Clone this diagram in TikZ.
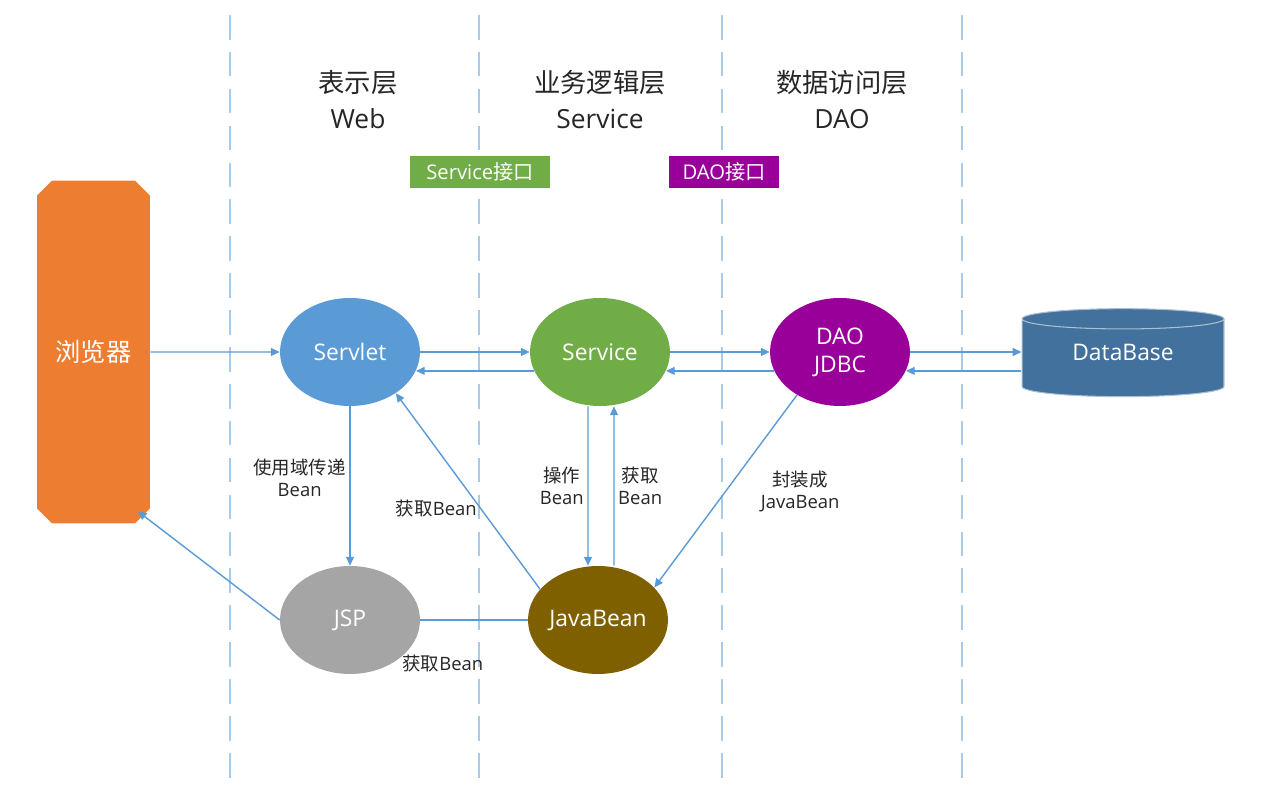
\documentclass[tikz,border=0pt]{standalone}
\usepackage{fontspec}
\setmainfont{Open Sans}
\newfontfamily\cjk{Noto Sans CJK SC}
\usetikzlibrary{arrows.meta,shapes.geometric,shapes.misc}
\definecolor{linkblue}{HTML}{5B9BD5}
\definecolor{layerblue}{HTML}{A9CBEA}
\definecolor{browserorange}{HTML}{ED7D31}
\definecolor{webblue}{HTML}{5B9BD5}
\definecolor{servicegreen}{HTML}{70AD47}
\definecolor{daopurple}{HTML}{990099}
\definecolor{dbblue}{HTML}{41719C}
\definecolor{jspgray}{HTML}{A5A5A5}
\definecolor{beanbrown}{HTML}{7F6000}
\begin{document}
\begin{tikzpicture}[x=0.02cm,y=-0.02cm,
  conn/.style={draw=linkblue,line width=0.8pt,-{Triangle[length=5pt,width=4.5pt]}},
  layer/.style={draw=layerblue,line width=0.8pt,dash pattern=on 14pt off 7pt},
  oval/.style={ellipse,minimum width=2.8cm,minimum height=2.16cm,inner sep=0pt,text=white,font=\fontsize{13}{16}\selectfont},
  iface/.style={minimum height=0.64cm,inner sep=0pt,text=white,font=\fontsize{11.5}{13}\selectfont},
  title/.style={align=center,text=black!85,font=\fontsize{15}{20.5}\selectfont},
  lbl/.style={align=center,text=black!85,font=\fontsize{10.5}{12.5}\selectfont,inner sep=2pt}]
  \useasboundingbox (0,0) rectangle (1265,810);
  \coordinate (L1top) at (230,15);  \coordinate (L1bot) at (230,785);
  \coordinate (L2top) at (479,15);  \coordinate (L2bot) at (479,785);
  \coordinate (L3top) at (722,15);  \coordinate (L3bot) at (722,785);
  \coordinate (L4top) at (962,15);  \coordinate (L4bot) at (962,785);
  \draw[layer] (L1top) -- (L1bot);
  \draw[layer] (L2top) -- (L2bot);
  \draw[layer] (L3top) -- (L3bot);
  \draw[layer] (L4top) -- (L4bot);

  \node[title] (webtitle) at (358,100) {{\cjk 表示层}\\Web};
  \node[title] (servicetitle) at (600,100) {{\cjk 业务逻辑层}\\Service};
  \node[title] (daotitle) at (842,100) {{\cjk 数据访问层}\\DAO};
  \node[iface,fill=servicegreen,minimum width=2.82cm] (serviceif) at (480,172) {Service{\cjk 接口}};
  \node[iface,fill=daopurple,minimum width=2.22cm] (daoif) at (724,172) {DAO{\cjk 接口}};

  \node[chamfered rectangle,chamfered rectangle xsep=0.15cm,chamfered rectangle ysep=0.15cm,
    fill=browserorange,minimum width=2.26cm,minimum height=6.86cm,inner sep=0pt,
    text=white,font=\cjk\fontsize{14.4}{16}\selectfont] (browser) at (93.5,352) {浏览器};
  \node[oval,fill=webblue] (servlet) at (350,352) {Servlet};
  \node[oval,fill=servicegreen] (service) at (600,352) {Service};
  \node[oval,fill=daopurple,align=center] (dao) at (840,352) {DAO\\JDBC};
  \node[cylinder,shape border rotate=90,aspect=0.2,fill=dbblue,draw=white!55!dbblue,line width=0.6pt,
    minimum width=4.04cm,minimum height=1.76cm,inner sep=0pt,text=white,
    font=\fontsize{13}{16}\selectfont] (db) at (1123,358) {\raisebox{0.12cm}[\height][\depth]{DataBase}};
  \node[oval,fill=jspgray] (jsp) at (350,620) {JSP};
  \node[oval,fill=beanbrown] (javabean) at (598,620) {JavaBean};

  \draw[conn] (browser) -- (servlet);
  \draw[conn] (servlet) -- (service);
  \draw[conn] (service.196) -- (servlet.-16);
  \draw[conn] (service) -- (dao);
  \draw[conn] (dao.196) -- (service.-16);
  \draw[conn] (dao) -- (dao -| db.west);
  \draw[conn] (dao.-16 -| db.west) -- (dao.-16);
  \draw[conn] (servlet) -- node[lbl,left,pos=0.45] (usebean) {{\cjk 使用域传递}\\Bean} (jsp);
  \draw[conn] (jsp.west) -- ([xshift=-0.1cm,yshift=0.1cm]browser.south east);
  \draw[conn] (javabean.152) -- node[lbl,left,pos=0.41] (getbean) {{\cjk 获取}Bean} (servlet.-42);
  \draw[conn,-] (jsp) -- node[lbl,below=0.62cm,pos=0.21] (jspbean) {{\cjk 获取}Bean} (javabean);
  \draw[conn] ([xshift=-0.24cm]service.south) -- node[lbl,left,pos=0.5] (opbean) {{\cjk 操作}\\Bean} ([xshift=-0.2cm]javabean.north);
  \draw[conn] ([xshift=0.32cm]javabean.north) -- node[lbl,right,pos=0.5] (fetchbean) {{\cjk 获取}\\Bean} ([xshift=0.28cm]service.south);
  \draw[conn] (dao.225) -- node[lbl,right=0.62cm,pos=0.5] (wrapbean) {{\cjk 封装成}\\JavaBean} (javabean.30);
\end{tikzpicture}
\end{document}
